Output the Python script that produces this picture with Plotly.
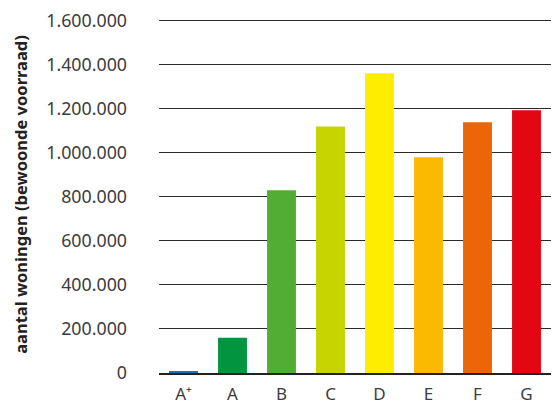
import plotly.graph_objects as go

categories = ["A⁺", "A", "B", "C", "D", "E", "F", "G"]
values = [5000, 160000, 829000, 1119000, 1360000, 979000, 1138000, 1192000]
colors = ["#1d71b8", "#009640", "#52ae32", "#c8d400", "#ffed00", "#fbba00", "#ec6608", "#e30613"]
y_ticks = [0, 200000, 400000, 600000, 800000, 1000000, 1200000, 1400000, 1600000]
y_tick_labels = ["0", "200.000", "400.000", "600.000", "800.000", "1.000.000", "1.200.000", "1.400.000", "1.600.000"]
y_title = "aantal woningen (bewoonde voorraad)"

font_family = "Noto Sans, Open Sans, sans-serif"

fig = go.Figure(go.Bar(
    x=categories, y=values, marker=dict(color=colors, line=dict(width=0)),
    width=0.59,
))

fig.update_layout(
    width=552, height=405,
    margin=dict(l=159, r=1, t=16, b=32),
    paper_bgcolor="white", plot_bgcolor="white",
    showlegend=False,
    font=dict(family=font_family, size=17, color="#3c3c3c"),
    bargap=0.41,
)
fig.update_xaxes(
    type="category",
    showgrid=False, showline=True, linecolor="#222", linewidth=1.5,
    ticks="outside", ticklen=5, tickcolor="rgba(0,0,0,0)",
    tickfont=dict(size=17, color="#3c3c3c"),
    automargin=False,
)
fig.update_yaxes(
    range=[0, 1620000],
    tickvals=y_ticks, ticktext=y_tick_labels,
    showgrid=True, gridcolor="#2a2a2a", gridwidth=1,
    showline=False, zeroline=False,
    ticks="", ticklabelstandoff=31,
    tickfont=dict(size=17.8, color="#3c3c3c"),
    title=dict(text="<b>" + y_title + "</b>", font=dict(size=16.5, color="#222"), standoff=14),
    automargin=False,
)
fig.write_html("out.html", config={"displayModeBar": False},
               post_script="document.body.style.margin='0px';document.body.style.padding='0px';")
